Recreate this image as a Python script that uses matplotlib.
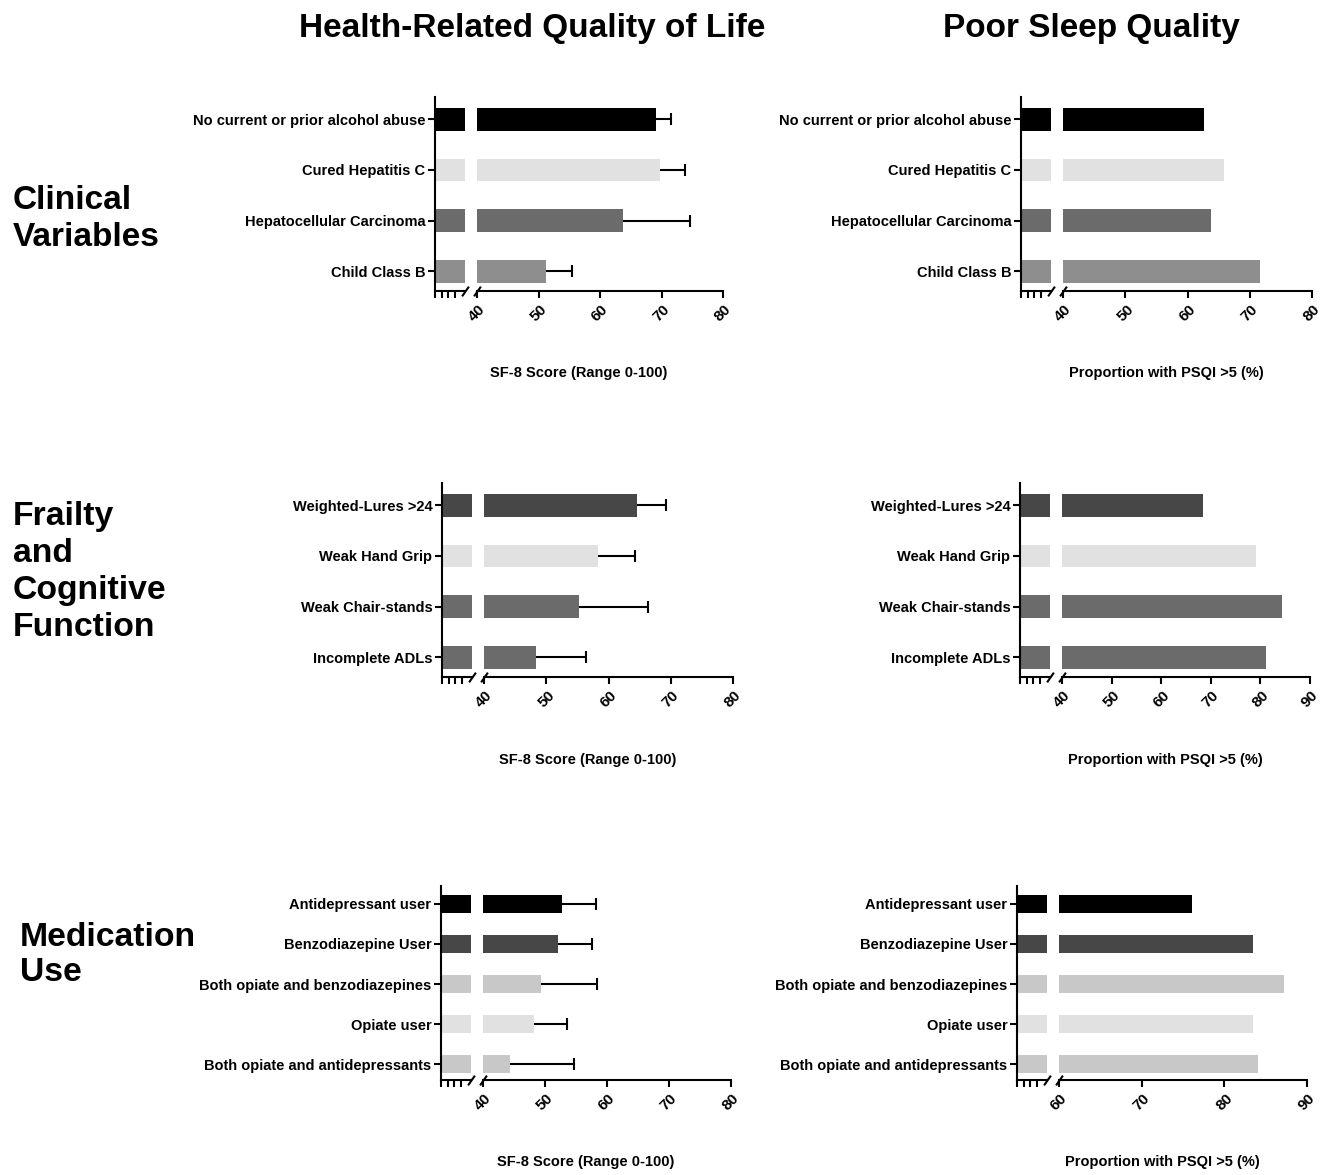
"""Broken-axis bar panels: HRQoL (SF-8) and poor sleep (PSQI) by patient group"""
import matplotlib.pyplot as plt

plt.rcParams['font.family'] = ['Liberation Sans', 'DejaVu Sans']
plt.rcParams['font.weight'] = 'bold'

# Data
clin_labels = ["No current or prior alcohol abuse", "Cured Hepatitis C",
               "Hepatocellular Carcinoma", "Child Class B"]
clin_sf8 = [69.1, 69.8, 63.8, 51.2]
clin_sf8_err = [2.4, 4.1, 10.9, 4.3]
clin_psqi = [62.6, 65.8, 63.8, 71.6]

frail_labels = ["Weighted-Lures >24", "Weak Hand Grip", "Weak Chair-stands", "Incomplete ADLs"]
frail_sf8 = [64.6, 58.3, 55.2, 48.4]
frail_sf8_err = [4.7, 5.9, 11.1, 8.0]
frail_psqi = [68.4, 79.1, 84.4, 81.1]

med_labels = ["Antidepressant user", "Benzodiazepine User", "Both opiate and benzodiazepines",
              "Opiate user", "Both opiate and antidepressants"]
med_sf8 = [52.8, 52.1, 49.4, 48.3, 44.3]
med_sf8_err = [5.4, 5.4, 9.0, 5.2, 10.4]
med_psqi = [76.1, 83.5, 87.2, 83.5, 84.1]

# Bar colours
clin_colors = ['#000000', '#e1e1e1', '#6b6b6b', '#8e8e8e']
frail_colors = ['#474747', '#e1e1e1', '#6b6b6b', '#6b6b6b']
med_colors = ['#000000', '#474747', '#c8c8c8', '#e1e1e1', '#c8c8c8']

SF8_LABEL = "SF-8 Score (Range 0-100)"
PSQI_LABEL = "Proportion with PSQI >5 (%)"

W, H = 1323, 1175


def px_rect(x0, x1, top, bot):
    return [x0 / W, 1 - bot / H, (x1 - x0) / W, (bot - top) / H]


def draw_panel(fig, box, labels, values, colors, err, lo, hi, xlabel, label_y):
    # box = (y axis x, left segment end, main segment start, main end, top, bottom) in pixels
    x0, xl, xm, xe, top, bot = box
    n = len(labels)
    pos = list(range(n))
    axl = fig.add_axes(px_rect(x0, xl, top, bot))
    axr = fig.add_axes(px_rect(xm, xe, top, bot))

    axl.barh(pos, values, height=0.45, color=colors)
    axr.barh(pos, [v - lo for v in values], left=lo, height=0.45, color=colors)

    if err is not None:
        for i, (v, e) in enumerate(zip(values, err)):
            axr.hlines(i, v, v + e, color='k', lw=1.5)
            axr.plot(v + e, i, marker='|', ms=8, mew=1.5, color='k')

    for ax in (axl, axr):
        ax.set_ylim(n - 1 + 0.39, -0.44)
        ax.spines['top'].set_visible(False)
        ax.spines['right'].set_visible(False)
        ax.spines['left'].set_linewidth(1.5)
        ax.spines['bottom'].set_linewidth(1.5)
        ax.tick_params(width=1.5, length=5, labelsize=10.5)

    axl.set_xlim(0, 4.6)
    axl.set_xticks([0, 1, 2, 3])
    axl.set_xticklabels([])
    axl.set_yticks(pos)
    axl.set_yticklabels(labels, fontweight='bold')
    axl.tick_params(axis='y', pad=2)

    axr.set_xlim(lo, hi)
    axr.set_xticks(range(lo, hi + 1, 10))
    axr.tick_params(axis='x', labelrotation=45, pad=3, labelsize=11)
    axr.spines['left'].set_visible(False)
    axr.set_yticks([])

    # break marks on the x axis
    slash = [(-0.7, -1), (0.7, 1)]
    axl.plot([1], [0], transform=axl.transAxes, marker=slash, ms=7, mew=1.5,
             color='k', ls='none', clip_on=False)
    axr.plot([0], [0], transform=axr.transAxes, marker=slash, ms=7, mew=1.5,
             color='k', ls='none', clip_on=False)

    fig.text((x0 + xe) / 2 / W, 1 - label_y / H, xlabel, ha='center', va='center',
             fontsize=10.5, fontweight='bold')


def main():
    fig = plt.figure(figsize=(13.23, 11.75), dpi=100)

    draw_panel(fig, (435, 465, 477, 723, 97, 291), clin_labels, clin_sf8, clin_colors,
               clin_sf8_err, 40, 80, SF8_LABEL, 373)
    draw_panel(fig, (1021, 1051, 1063, 1312, 97, 291), clin_labels, clin_psqi, clin_colors,
               None, 40, 80, PSQI_LABEL, 373)
    draw_panel(fig, (442, 472, 484, 733, 483, 677), frail_labels, frail_sf8, frail_colors,
               frail_sf8_err, 40, 80, SF8_LABEL, 760)
    draw_panel(fig, (1020, 1050, 1062, 1310, 483, 677), frail_labels, frail_psqi, frail_colors,
               None, 40, 90, PSQI_LABEL, 760)
    draw_panel(fig, (441, 471, 483, 731, 886, 1080), med_labels, med_sf8, med_colors,
               med_sf8_err, 40, 80, SF8_LABEL, 1162)
    draw_panel(fig, (1017, 1047, 1059, 1307, 886, 1080), med_labels, med_psqi, med_colors,
               None, 60, 90, PSQI_LABEL, 1162)

    fig.text(532 / W, 1 - 28 / H, "Health-Related Quality of Life", ha='center', va='center',
             fontsize=24, fontweight='bold')
    fig.text(1091 / W, 1 - 28 / H, "Poor Sleep Quality", ha='center', va='center',
             fontsize=24, fontweight='bold')

    fig.text(13 / W, 1 - 219 / H, "Clinical\nVariables", ha='left', va='center',
             fontsize=24, fontweight='bold', linespacing=1.25)
    fig.text(13 / W, 1 - 572 / H, "Frailty\nand\nCognitive\nFunction", ha='left', va='center',
             fontsize=24.3, fontweight='bold', linespacing=1.25)
    fig.text(20 / W, 1 - 955 / H, "Medication\nUse", ha='left', va='center',
             fontsize=24.3, fontweight='bold', linespacing=1.2)

    fig.savefig('out.png', dpi=100)


if __name__ == '__main__':
    main()
